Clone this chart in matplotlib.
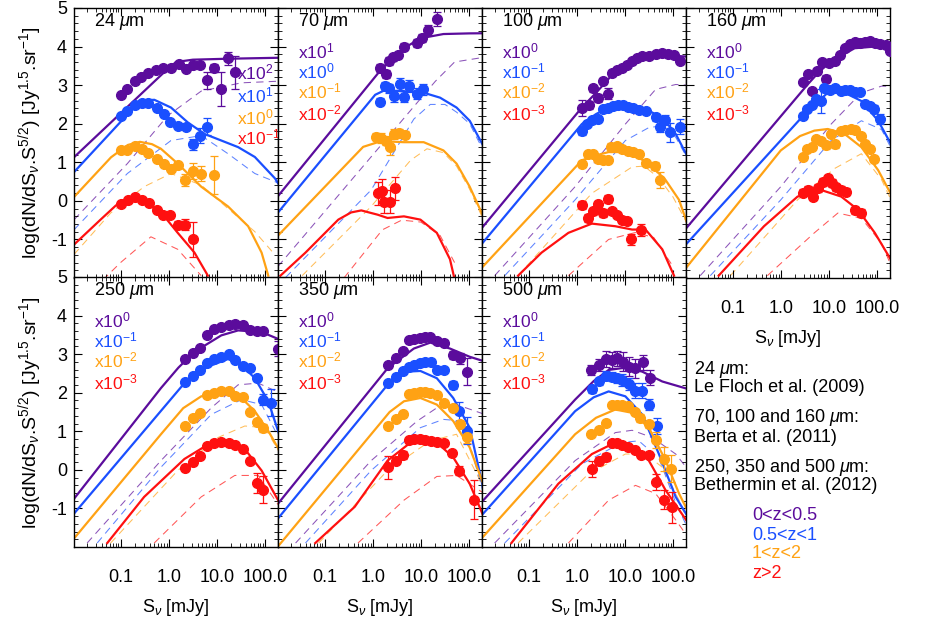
import numpy as np
import matplotlib
matplotlib.use('Agg')
import matplotlib.pyplot as plt
from matplotlib.ticker import FixedLocator, FixedFormatter, MultipleLocator, LogLocator, NullFormatter

plt.rcParams['font.family'] = ['Liberation Sans', 'DejaVu Sans']
plt.rcParams['mathtext.fontset'] = 'custom'
plt.rcParams['mathtext.rm'] = 'Liberation Sans'
plt.rcParams['mathtext.it'] = 'Liberation Sans:italic'
plt.rcParams['mathtext.bf'] = 'Liberation Sans:bold'
plt.rcParams['axes.unicode_minus'] = False

# colours of the redshift bins: 0<z<0.5, 0.5<z<1, 1<z<2, z>2
zcolors = ['#5b0c9c', '#1a4fff', '#ffa214', '#ff1010']
zlabels = ['0<z<0.5', '0.5<z<1', '1<z<2', 'z>2']

# ---- data: x as log10(S [mJy]), y as log(dN/dS S^2.5) ----
# each list holds the 4 redshift bins

# 24 um
pt24_lx = [[-1.0, -0.861, -0.707, -0.582, -0.428, -0.268, -0.128, 0.046, 0.22, 0.36, 0.499, 0.639, 0.792, 0.939, 1.092, 1.232, 1.371],
           [-1.0, -0.861, -0.707, -0.561, -0.428, -0.254, -0.093, 0.032, 0.186, 0.36, 0.499, 0.639, 0.792],
           [-1.0, -0.861, -0.707, -0.561, -0.428, -0.254, -0.093, 0.046, 0.186, 0.339, 0.499, 0.66, 0.939],
           [-1.0, -0.847, -0.707, -0.561, -0.407, -0.254, -0.128, 0.032, 0.186, 0.339, 0.513]]
pt24_y = [[2.735, 2.91, 3.12, 3.205, 3.32, 3.38, 3.445, 3.445, 3.55, 3.42, 3.53, 3.53, 3.13, 3.445, 2.89, 3.70, 3.33],
          [2.188, 2.333, 2.479, 2.547, 2.547, 2.419, 2.248, 2.034, 1.949, 1.906, 1.462, 1.692, 1.923],
          [1.308, 1.308, 1.41, 1.35, 1.24, 1.094, 0.966, 0.838, 0.923, 0.538, 0.778, 0.709, 0.667],
          [-0.077, 0.026, 0.094, 0.026, -0.06, -0.248, -0.359, -0.359, -0.615, -0.615, -1.0]]
pt24_e = [[0.04] * 12 + [0.22, 0.1, 0.44, 0.17, 0.43],
          [0.04] * 10 + [0.15, 0.2, 0.22],
          [0.04] * 9 + [0.15, 0.2, 0.2, 0.5],
          [0.04] * 8 + [0.1, 0.15, 0.45]]
mod24_lx = [[-1.97, -0.1, 0.15, 0.5, 1.2, 2.3],
            [-1.97, -1.0, -0.65, -0.45, -0.3, 0.046, 0.395, 0.743, 1.092, 1.441, 1.789, 2.208, 2.3],
            [-1.97, -1.2, -0.85, -0.6, -0.35, -0.163, 0.186, 0.674, 1.231, 1.65, 1.929, 2.068],
            [-1.97, -1.418, -1.1, -0.86, -0.7, -0.442, -0.093, 0.186, 0.534, 0.813]]
mod24_y = [[1.13, 3.33, 3.6, 3.66, 3.684, 3.71],
           [0.745, 2.05, 2.5, 2.61, 2.62, 2.419, 2.034, 1.735, 1.564, 1.393, 1.137, 0.581, 0.4],
           [0.1, 1.13, 1.45, 1.53, 1.47, 1.35, 0.966, 0.368, -0.145, -0.658, -1.342, -1.94],
           [-1.135, -0.487, -0.12, 0.03, 0.06, -0.06, -0.402, -0.829, -1.342, -1.94]]
dash24_lx = [[-1.97, -0.861, -0.024, 0.674, 1.51, 2.3],
             [-1.97, -0.861, 0.046, 0.674, 1.231, 1.789, 2.3],
             [-1.97, -1.209, -0.512, 0.046, 0.674, 1.231, 1.789, 2.208],
             [-1.558, -1.0, -0.372, 0.186, 0.674]]
dash24_y = [[-0.49, 0.966, 2.205, 2.846, 3.06, 3.103],
            [-0.75, 0.709, 1.564, 1.692, 1.222, 0.709, 0.45],
            [-1.39, -0.316, 0.368, 0.709, 0.41, -0.2, -0.8, -1.4],
            [-2.28, -1.598, -0.932, -1.256, -1.94]]

# 70 um
pt70_lx = [[0.157, 0.273, 0.341, 0.43, 0.532, 0.648, 0.921, 1.024, 1.147, 1.331],
           [0.157, 0.253, 0.341, 0.444, 0.56, 0.648, 0.751, 0.921, 1.044],
           [0.068, 0.171, 0.273, 0.362, 0.444, 0.546, 0.662],
           [0.116, 0.184, 0.239, 0.355, 0.457]]
pt70_y = [[3.444, 3.291, 3.632, 3.718, 3.786, 4.0, 4.085, 4.214, 4.427, 4.726],
          [2.573, 2.974, 2.915, 2.718, 3.034, 2.701, 2.974, 2.778, 2.889],
          [1.667, 1.632, 1.564, 1.393, 1.735, 1.752, 1.718],
          [0.197, 0.265, -0.017, -0.017, 0.325]]
pt70_e = [[0.1, 0.1, 0.1, 0.1, 0.08, 0.08, 0.1, 0.1, 0.12, 0.18],
          [0.1, 0.1, 0.12, 0.15, 0.15, 0.15, 0.15, 0.15, 0.15],
          [0.1, 0.12, 0.12, 0.2, 0.12, 0.12, 0.1],
          [0.3, 0.3, 0.3, 0.3, 0.3]]
mod70_lx = [[-1.98, 0.171, 0.648, 0.99, 1.468, 2.01, 2.3],
            [-1.98, 0.05, 0.25, 0.512, 0.99, 1.399, 1.741, 2.014, 2.3],
            [-1.98, -0.2, 0.171, 0.648, 1.058, 1.468, 1.741, 2.014, 2.3],
            [-1.92, -1.399, -0.717, -0.45, -0.239, 0.102, 0.307, 0.648, 0.99, 1.331, 1.604, 1.75]]
mod70_y = [[0.108, 3.402, 3.957, 4.214, 4.325, 4.342, 4.345],
           [-0.318, 2.75, 2.87, 2.846, 2.829, 2.675, 2.419, 2.077, 1.42],
           [-0.914, 1.4, 1.547, 1.521, 1.521, 1.308, 0.966, 0.368, -0.41],
           [-1.94, -1.342, -0.487, -0.3, -0.248, -0.359, -0.444, -0.402, -0.487, -0.829, -1.513, -2.3]]
dash70_lx = [[-1.97, 1.3, 1.7, 2.3],
             [-1.809, -0.034, 0.853, 1.195, 1.5, 1.741, 2.014, 2.3],
             [-1.468, -0.034, 0.785, 1.126, 1.468, 1.741, 2.014, 2.3],
             [-0.6, 0.2, 0.6, 1.0, 1.4, 1.7]]
dash70_y = [[-1.7, 3.1, 3.6, 3.72],
            [-1.983, 0.282, 2.12, 2.5, 2.5, 2.3, 2.0, 1.3],
            [-1.94, -0.145, 1.051, 1.35, 1.25, 0.9, 0.3, -0.5],
            [-2.0, -0.75, -0.5, -0.55, -0.9, -1.6]]

# 100 um
pt100_lx = [[0.118, 0.244, 0.328, 0.439, 0.537, 0.648, 0.732, 0.836, 0.941, 1.045, 1.15, 1.254, 1.359, 1.498, 1.638, 1.777, 1.902, 2.021, 2.139],
            [0.118, 0.209, 0.314, 0.439, 0.537, 0.648, 0.746, 0.857, 0.962, 1.066, 1.164, 1.289, 1.429, 1.638, 1.721, 1.833, 1.937, 2.139],
            [0.118, 0.223, 0.328, 0.439, 0.537, 0.648, 0.718, 0.836, 0.941, 1.066, 1.164, 1.289, 1.429, 1.624, 1.721],
            [0.118, 0.23, 0.328, 0.439, 0.537, 0.648, 0.732, 0.836, 0.941, 1.045, 1.136, 1.338]]
pt100_y = [[2.402, 2.479, 2.915, 2.675, 3.103, 2.778, 3.316, 3.402, 3.444, 3.53, 3.615, 3.701, 3.744, 3.744, 3.803, 3.829, 3.803, 3.786, 3.632],
           [1.803, 1.991, 2.094, 2.12, 2.376, 2.402, 2.462, 2.487, 2.487, 2.436, 2.402, 2.35, 2.333, 2.162, 1.923, 2.094, 1.778, 1.923],
           [0.966, 1.205, 1.205, 1.094, 1.051, 1.068, 1.393, 1.41, 1.35, 1.291, 1.265, 1.222, 0.983, 0.897, 0.538],
           [-0.103, -0.444, -0.274, -0.077, -0.316, 0.043, -0.274, -0.359, -0.504, -0.53, -1.0, -0.761]]
pt100_e = [[0.2, 0.1, 0.08, 0.1, 0.08, 0.15, 0.08, 0.08, 0.08, 0.06, 0.06, 0.06, 0.06, 0.05, 0.05, 0.05, 0.05, 0.05, 0.06],
           [0.1, 0.06, 0.06, 0.05, 0.05, 0.05, 0.05, 0.05, 0.05, 0.05, 0.05, 0.06, 0.06, 0.1, 0.15, 0.12, 0.25, 0.2],
           [0.08, 0.06, 0.06, 0.06, 0.06, 0.06, 0.1, 0.06, 0.06, 0.06, 0.06, 0.06, 0.06, 0.1, 0.2],
           [0.1, 0.1, 0.1, 0.08, 0.1, 0.1, 0.06, 0.06, 0.06, 0.06, 0.15, 0.15]]
mod100_lx = [[-2.0, 0.105, 0.4, 0.801, 1.359, 1.916, 2.3],
             [-2.0, 0.105, 0.4, 0.662, 1.01, 1.359, 1.777, 2.056, 2.3],
             [-2.0, 0.105, 0.4, 0.662, 1.08, 1.498, 1.847, 2.125, 2.3],
             [-1.22, -0.732, -0.174, 0.314, 0.801, 1.15, 1.429, 1.777, 2.021]]
mod100_y = [[-0.744, 2.419, 2.8, 3.359, 3.684, 3.769, 3.74],
            [-1.154, 1.991, 2.25, 2.419, 2.504, 2.419, 2.162, 1.735, 1.15],
            [-1.769, 1.051, 1.18, 1.265, 1.265, 0.966, 0.538, 0.026, -0.6],
            [-1.94, -1.342, -0.829, -0.59, -0.658, -0.744, -0.744, -1.256, -1.94]]
dash100_lx = [[-1.707, -0.035, 1.01, 1.638, 2.056, 2.3],
              [-1.498, -0.035, 1.01, 1.498, 1.8, 2.056, 2.3],
              [-1.22, 0.314, 1.15, 1.4, 1.7, 2.0, 2.3],
              [-0.174, 0.662, 1.22, 1.6, 2.0]]
dash100_y = [[-1.94, 0.368, 1.991, 2.889, 3.017, 3.0],
             [-1.94, 0.026, 1.564, 1.9, 1.95, 1.65, 1.1],
             [-1.94, 0.197, 0.88, 0.9, 0.6, 0.1, -0.6],
             [-1.94, -1.0, -0.82, -0.95, -1.7]]

# 160 um
pt160_lx = [[0.454, 0.558, 0.649, 0.754, 0.851, 0.942, 1.012, 1.117, 1.221, 1.326, 1.431, 1.535, 1.64, 1.745, 1.849, 1.954, 2.059, 2.177, 2.268],
            [0.454, 0.544, 0.642, 0.733, 0.837, 0.907, 1.033, 1.13, 1.242, 1.34, 1.431, 1.535, 1.64, 1.745, 1.849, 1.94, 2.059],
            [0.454, 0.544, 0.642, 0.733, 0.837, 0.942, 1.047, 1.13, 1.242, 1.34, 1.452, 1.549, 1.661, 1.759, 1.849, 1.94],
            [0.454, 0.558, 0.663, 0.768, 0.872, 0.977, 1.061, 1.151, 1.242, 1.361, 1.549, 1.661]]
pt160_y = [[3.085, 3.291, 2.846, 3.376, 3.598, 3.171, 3.573, 3.615, 3.769, 3.957, 4.06, 4.111, 4.085, 4.111, 4.145, 4.085, 4.06, 4.043, 3.889],
           [2.205, 2.376, 2.487, 2.632, 2.59, 2.915, 2.863, 2.915, 2.846, 2.863, 2.863, 2.829, 2.829, 2.504, 2.462, 2.376, 2.12],
           [1.137, 1.35, 1.393, 1.607, 1.564, 1.436, 1.735, 1.462, 1.821, 1.838, 1.863, 1.838, 1.692, 1.479, 1.35, 1.094],
           [0.214, 0.282, 0.111, 0.325, 0.496, 0.581, 0.47, 0.35, 0.282, 0.239, -0.248, -0.316]]
pt160_e = [[0.06] * 5 + [0.1] + [0.06] * 13,
           [0.06, 0.06, 0.06, 0.06, 0.3] + [0.06] * 9 + [0.08, 0.1, 0.12],
           [0.08, 0.06, 0.06, 0.06, 0.06, 0.1, 0.06, 0.1] + [0.06] * 7 + [0.08],
           [0.1] * 12]
mod160_lx = [[-1.989, 0.558, 0.8, 1.047, 1.535, 1.954, 2.3],
             [-1.989, 0.558, 0.977, 1.326, 1.675, 2.024, 2.3],
             [-1.989, 0.0, 0.4, 0.698, 0.977, 1.326, 1.675, 2.024, 2.3],
             [-1.291, -0.349, 0.349, 0.837, 1.256, 1.605, 1.954, 2.3]]
mod160_y = [[-0.744, 3.017, 3.35, 3.615, 3.957, 4.0, 4.0],
            [-1.154, 2.333, 2.803, 2.803, 2.59, 2.077, 1.45],
            [-1.769, 1.308, 1.68, 1.821, 1.863, 1.735, 1.393, 0.795, 0.15],
            [-1.94, -0.658, 0.111, 0.282, 0.111, -0.231, -0.829, -1.55]]
dash160_lx = [[-1.675, 0.0, 1.047, 1.675, 2.094, 2.3],
              [-1.465, 0.0, 1.047, 1.675, 2.094, 2.3],
              [-1.047, 0.349, 1.117, 1.675, 2.094, 2.3],
              [-0.279, 0.698, 1.186, 1.675, 2.094, 2.3]]
dash160_y = [[-1.94, 0.368, 1.991, 2.803, 2.974, 2.974],
             [-1.94, 0.026, 1.564, 2.077, 1.85, 1.35],
             [-1.94, 0.026, 0.838, 1.222, 0.55, 0.0],
             [-1.94, -0.829, -0.316, -0.45, -1.1, -1.7]]

# 250 um
pt250_lx = [[0.346, 0.499, 0.639, 0.792, 0.939, 1.092, 1.245, 1.371, 1.545, 1.685, 1.824, 1.964, 2.278],
            [0.346, 0.499, 0.639, 0.792, 0.939, 1.092, 1.245, 1.371, 1.545, 1.685, 1.824, 1.964, 2.124],
            [0.346, 0.499, 0.653, 0.792, 0.939, 1.092, 1.245, 1.371, 1.545, 1.685, 1.824, 1.964],
            [0.346, 0.499, 0.639, 0.792, 0.939, 1.092, 1.245, 1.371, 1.545, 1.685, 1.824, 1.964]]
pt250_y = [[2.872, 3.017, 3.162, 3.487, 3.658, 3.701, 3.761, 3.786, 3.761, 3.615, 3.59, 3.59, 3.145],
           [2.274, 2.444, 2.59, 2.761, 2.872, 2.932, 2.991, 2.846, 2.701, 2.632, 2.393, 1.821, 1.735],
           [1.137, 1.35, 1.479, 1.949, 1.991, 2.034, 2.051, 1.906, 1.88, 1.504, 1.248, 1.094],
           [0.051, 0.197, 0.368, 0.624, 0.709, 0.735, 0.709, 0.65, 0.538, 0.239, -0.342, -0.513]]
pt250_e = [[0.06] * 12 + [0.2],
           [0.06] * 11 + [0.15, 0.35],
           [0.06] * 11 + [0.1],
           [0.06] * 10 + [0.25, 0.35]]
mod250_lx = [[-1.97, -0.163, 0.2, 0.534, 1.092, 1.441, 1.929, 2.3],
             [-1.97, 0.325, 0.813, 1.231, 1.51, 1.789, 2.068, 2.3],
             [-1.97, -0.163, 0.3, 0.674, 1.231, 1.51, 1.789, 2.068, 2.3],
             [-1.279, -0.512, 0.325, 0.883, 1.231, 1.58, 1.929, 2.3]]
mod250_y = [[-0.75, 2.12, 2.65, 3.06, 3.487, 3.615, 3.573, 3.38],
            [-1.135, 2.248, 2.675, 2.872, 2.718, 2.376, 1.778, 0.9],
            [-1.78, 0.923, 1.6, 1.906, 2.034, 1.863, 1.521, 1.009, 0.5],
            [-1.897, -0.701, 0.282, 0.709, 0.752, 0.538, -0.017, -0.85]]
dash250_lx = [[-1.697, -0.163, 0.883, 1.441, 1.859, 2.3],
              [-1.488, -0.163, 0.883, 1.51, 1.929, 2.3],
              [-1.209, 0.186, 1.022, 1.58, 1.999, 2.3],
              [-0.303, 0.674, 1.371, 1.859, 2.3]]
dash250_y = [[-1.897, 0.239, 1.607, 2.205, 2.248, 2.0],
             [-1.897, 0.068, 1.436, 1.821, 1.692, 0.8],
             [-1.897, -0.017, 0.838, 1.137, 1.094, 0.45],
             [-1.897, -0.701, -0.145, -0.145, -0.95]]

# 350 um
pt350_lx = [[0.307, 0.478, 0.635, 0.751, 0.853, 0.976, 1.092, 1.195, 1.331, 1.481, 1.659, 1.809, 1.959],
            [0.321, 0.478, 0.635, 0.751, 0.853, 0.976, 1.092, 1.208, 1.331, 1.481, 1.659, 1.795, 1.959],
            [0.307, 0.478, 0.635, 0.751, 0.853, 0.976, 1.092, 1.195, 1.331, 1.481, 1.659, 1.809, 1.959],
            [0.321, 0.478, 0.635, 0.751, 0.853, 0.976, 1.092, 1.208, 1.331, 1.481, 1.638, 1.795, 2.096]]
pt350_y = [[2.718, 2.906, 3.077, 3.359, 3.385, 3.419, 3.444, 3.444, 3.333, 3.299, 2.974, 2.889, 2.547],
           [2.248, 2.419, 2.564, 2.675, 2.718, 2.761, 2.786, 2.803, 2.59, 2.59, 2.205, 1.521, 1.009],
           [1.137, 1.308, 1.436, 1.966, 1.991, 2.009, 2.017, 1.991, 1.949, 1.735, 1.607, 1.179, 0.855],
           [0.068, 0.239, 0.385, 0.769, 0.795, 0.795, 0.769, 0.752, 0.735, 0.709, 0.427, -0.017, -0.769]]
pt350_e = [[0.06] * 10 + [0.1, 0.15, 0.35],
           [0.06] * 10 + [0.1, 0.25, 0.35],
           [0.06] * 11 + [0.1, 0.15],
           [0.3, 0.06, 0.1] + [0.06] * 8 + [0.12, 0.5]]
mod350_lx = [[-1.97, 0.307, 0.853, 1.195, 1.604, 2.014, 2.3],
             [-1.97, 0.307, 0.717, 0.99, 1.331, 1.672, 2.014, 2.3],
             [-1.97, -0.034, 0.35, 0.648, 0.99, 1.331, 1.672, 2.014, 2.3],
             [-1.195, -0.375, 0.307, 0.785, 1.058, 1.331, 1.672, 2.014, 2.3]]
mod350_y = [[-0.877, 2.632, 3.145, 3.299, 3.145, 2.932, 2.82],
            [-1.26, 2.205, 2.547, 2.564, 2.376, 1.863, 1.094, -0.5],
            [-1.985, 0.923, 1.5, 1.778, 1.863, 1.692, 1.265, 0.581, -0.38],
            [-1.897, -0.957, 0.239, 0.709, 0.795, 0.709, 0.325, -0.359, -1.2]]
dash350_lx = [[-1.604, -0.034, 0.922, 1.331, 1.741, 2.3],
              [-1.399, -0.034, 0.99, 1.468, 1.877, 2.3],
              [-1.126, 0.307, 1.195, 1.741, 2.3],
              [-0.307, 0.648, 1.331, 1.741, 2.3]]
dash350_y = [[-1.897, 0.239, 1.265, 1.607, 1.692, 1.45],
             [-1.897, -0.017, 1.094, 1.308, 1.265, -0.6],
             [-1.897, -0.017, 0.752, 0.923, -0.45],
             [-1.897, -0.786, -0.171, -0.145, -0.6]]

# 500 um
pt500_lx = [[0.3, 0.453, 0.606, 0.732, 0.836, 0.955, 1.08, 1.22, 1.373, 1.512],
            [0.314, 0.467, 0.606, 0.732, 0.836, 0.941, 1.08, 1.22, 1.359, 1.498, 1.672],
            [0.3, 0.453, 0.606, 0.732, 0.836, 0.941, 1.066, 1.206, 1.324, 1.498, 1.652, 1.812, 1.965],
            [0.314, 0.467, 0.606, 0.732, 0.836, 0.941, 1.066, 1.206, 1.345, 1.498, 1.638, 1.812, 1.972]]
pt500_y = [[2.59, 2.718, 2.872, 2.846, 2.889, 2.803, 2.675, 2.632, 2.786, 2.393],
           [2.103, 2.291, 2.444, 2.419, 2.376, 2.333, 2.222, 2.051, 2.051, 1.692, 1.137],
           [0.94, 1.026, 1.222, 1.675, 1.675, 1.675, 1.65, 1.504, 1.35, 1.179, 0.769, 0.282, 0.026],
           [0.026, 0.222, 0.342, 0.709, 0.684, 0.65, 0.598, 0.513, 0.393, 0.393, -0.316, -0.769, -0.974]]
pt500_e = [[0.12, 0.15, 0.2, 0.2, 0.2, 0.25, 0.25, 0.25, 0.2, 0.2],
           [0.1, 0.1, 0.12, 0.12, 0.12, 0.15, 0.15, 0.2, 0.2, 0.15, 0.2],
           [0.08, 0.08, 0.08, 0.05, 0.05, 0.05, 0.05, 0.08, 0.1, 0.1, 0.2, 0.3, 0.35],
           [0.2, 0.1, 0.1, 0.05, 0.05, 0.05, 0.05, 0.05, 0.05, 0.05, 0.2, 0.25, 0.4]]
mod500_lx = [[-1.972, -0.035, 0.35, 0.662, 1.01, 1.359, 1.777, 2.3],
             [-1.972, -0.035, 0.35, 0.662, 1.01, 1.359, 1.707, 2.056, 2.3],
             [-1.972, -0.035, 0.4, 0.801, 1.15, 1.498, 1.847, 2.125, 2.3],
             [-1.359, -0.383, 0.314, 0.801, 1.15, 1.498, 1.847, 2.3]]
mod500_y = [[-0.829, 1.821, 2.3, 2.59, 2.65, 2.547, 2.291, 2.1],
            [-1.171, 1.521, 1.88, 2.034, 1.906, 1.436, 0.41, -0.701, -1.2],
            [-1.769, 0.923, 1.35, 1.564, 1.479, 1.094, 0.239, -0.615, -1.05],
            [-1.897, -0.359, 0.41, 0.709, 0.624, 0.239, -0.53, -1.35]]
dash500_lx = [[-1.707, -0.035, 0.801, 1.15, 1.568, 2.056, 2.3],
              [-1.498, 0.105, 0.941, 1.289, 1.707, 2.056, 2.3],
              [-1.22, 0.244, 1.01, 1.429, 1.777, 2.125, 2.3],
              [-0.174, 0.662, 1.22, 1.638, 2.056, 2.3]]
dash500_y = [[-1.897, 0.239, 0.966, 1.026, 0.838, 0.41, 0.026],
             [-1.897, 0.154, 0.709, 0.752, 0.3, -0.85, -1.5],
             [-1.897, -0.103, 0.41, 0.41, 0.068, -0.786, -1.299],
             [-1.897, -0.786, -0.402, -0.615, -1.299, -1.726]]

# panel titles and scale factors
titles = ['24 $\\mu$m', '70 $\\mu$m', '100 $\\mu$m', '160 $\\mu$m', '250 $\\mu$m', '350 $\\mu$m', '500 $\\mu$m']
scales24 = ['x10$^2$', 'x10$^1$', 'x10$^0$', 'x10$^{-1}$']
scales70 = ['x10$^1$', 'x10$^0$', 'x10$^{-1}$', 'x10$^{-2}$']
scales_other = ['x10$^0$', 'x10$^{-1}$', 'x10$^{-2}$', 'x10$^{-3}$']

panels = [
    (pt24_lx, pt24_y, pt24_e, mod24_lx, mod24_y, dash24_lx, dash24_y, scales24),
    (pt70_lx, pt70_y, pt70_e, mod70_lx, mod70_y, dash70_lx, dash70_y, scales70),
    (pt100_lx, pt100_y, pt100_e, mod100_lx, mod100_y, dash100_lx, dash100_y, scales_other),
    (pt160_lx, pt160_y, pt160_e, mod160_lx, mod160_y, dash160_lx, dash160_y, scales_other),
    (pt250_lx, pt250_y, pt250_e, mod250_lx, mod250_y, dash250_lx, dash250_y, scales_other),
    (pt350_lx, pt350_y, pt350_e, mod350_lx, mod350_y, dash350_lx, dash350_y, scales_other),
    (pt500_lx, pt500_y, pt500_e, mod500_lx, mod500_y, dash500_lx, dash500_y, scales_other),
]

W, H = 926, 618
fig = plt.figure(figsize=(W / 100, H / 100), dpi=100)

col_left = [74, 278, 482, 686]
row_top = [8, 277]
pw, ph = 204, 270
ylab = r'log(dN/dS$_\nu$.S$^{5/2}$) [Jy$^{1.5}$.sr$^{-1}$]'
xlab = r'S$_\nu$ [mJy]'

for i, (plx, py, pe, mlx, my, dlx, dy, scales) in enumerate(panels):
    row, col = divmod(i, 4)
    ax = fig.add_axes([col_left[col] / W, 1 - (row_top[row] + ph) / H, pw / W, ph / H])
    ax.set_xscale('log')
    ax.set_xlim(10 ** -1.97, 10 ** 2.27)
    ax.set_ylim(-2, 5)

    for k in range(4):
        c = zcolors[k]
        ax.plot(10 ** np.array(dlx[k]), dy[k], color=c, lw=0.75, alpha=0.7,
                linestyle=(0, (7, 5)), zorder=1)
        ax.plot(10 ** np.array(mlx[k]), my[k], color=c, lw=1.6, zorder=2)
        ax.errorbar(10 ** np.array(plx[k]), py[k], yerr=pe[k], fmt='o', ms=7,
                    color=c, ecolor=c, elinewidth=0.9, capsize=3, capthick=0.9, zorder=3)

    # ticks on all sides, pointing in
    ax.xaxis.set_major_locator(FixedLocator([0.1, 1, 10, 100]))
    ax.xaxis.set_minor_locator(LogLocator(base=10, subs=np.arange(2, 10), numticks=20))
    ax.xaxis.set_minor_formatter(NullFormatter())
    ax.yaxis.set_major_locator(FixedLocator([-1, 0, 1, 2, 3, 4, 5]))
    ax.yaxis.set_minor_locator(MultipleLocator(0.2))
    ax.tick_params(which='both', direction='in', top=True, right=True, labelsize=13)
    ax.tick_params(which='major', length=6, width=0.8)
    ax.tick_params(which='minor', length=3, width=0.6)
    ax.tick_params(axis='y', pad=5)
    for s in ax.spines.values():
        s.set_linewidth(1.0)

    if row == 1 or i == 3:
        ax.xaxis.set_major_formatter(FixedFormatter(['0.1', '1.0', '10.0', '100.0']))
        ax.tick_params(axis='x', pad=16)
        ax.set_xlabel(xlab, fontsize=13, labelpad=8)
    else:
        ax.tick_params(axis='x', labelbottom=False)
    if col == 0:
        ax.yaxis.set_major_formatter(FixedFormatter(['-1', '0', '1', '2', '3', '4', '5']))
    else:
        ax.tick_params(axis='y', labelleft=False)

    ax.text(0.10, 0.95, titles[i], transform=ax.transAxes, fontsize=13, va='center', ha='left')
    if i == 0:
        sx, sy = 0.80, [0.762, 0.677, 0.595, 0.52]
    else:
        sx, sy = 0.10, [0.84, 0.765, 0.69, 0.61]
    for k in range(4):
        ax.text(sx, sy[k], scales[k], transform=ax.transAxes, fontsize=12.5,
                color=zcolors[k], va='center', ha='left', clip_on=False)

# y labels of both rows
fig.text(30 / W, 1 - 143 / H, ylab, rotation=90, fontsize=14, ha='center', va='center')
fig.text(30 / W, 1 - 413 / H, ylab, rotation=90, fontsize=14, ha='center', va='center')

# references and redshift bins in the empty slot
refs = [('24 $\\mu$m:', 370), ('Le Floch et al. (2009)', 388),
        ('70, 100 and 160 $\\mu$m:', 418), ('Berta et al. (2011)', 437),
        ('250, 350 and 500 $\\mu$m:', 467), ('Bethermin et al. (2012)', 486)]
for txt, ypx in refs:
    fig.text(694 / W, 1 - ypx / H, txt, fontsize=13, ha='left', va='center')
for k in range(4):
    fig.text(752 / W, 1 - (516 + 19 * k) / H, zlabels[k], fontsize=13,
             color=zcolors[k], ha='left', va='center')

fig.savefig('out.png', dpi=100)
